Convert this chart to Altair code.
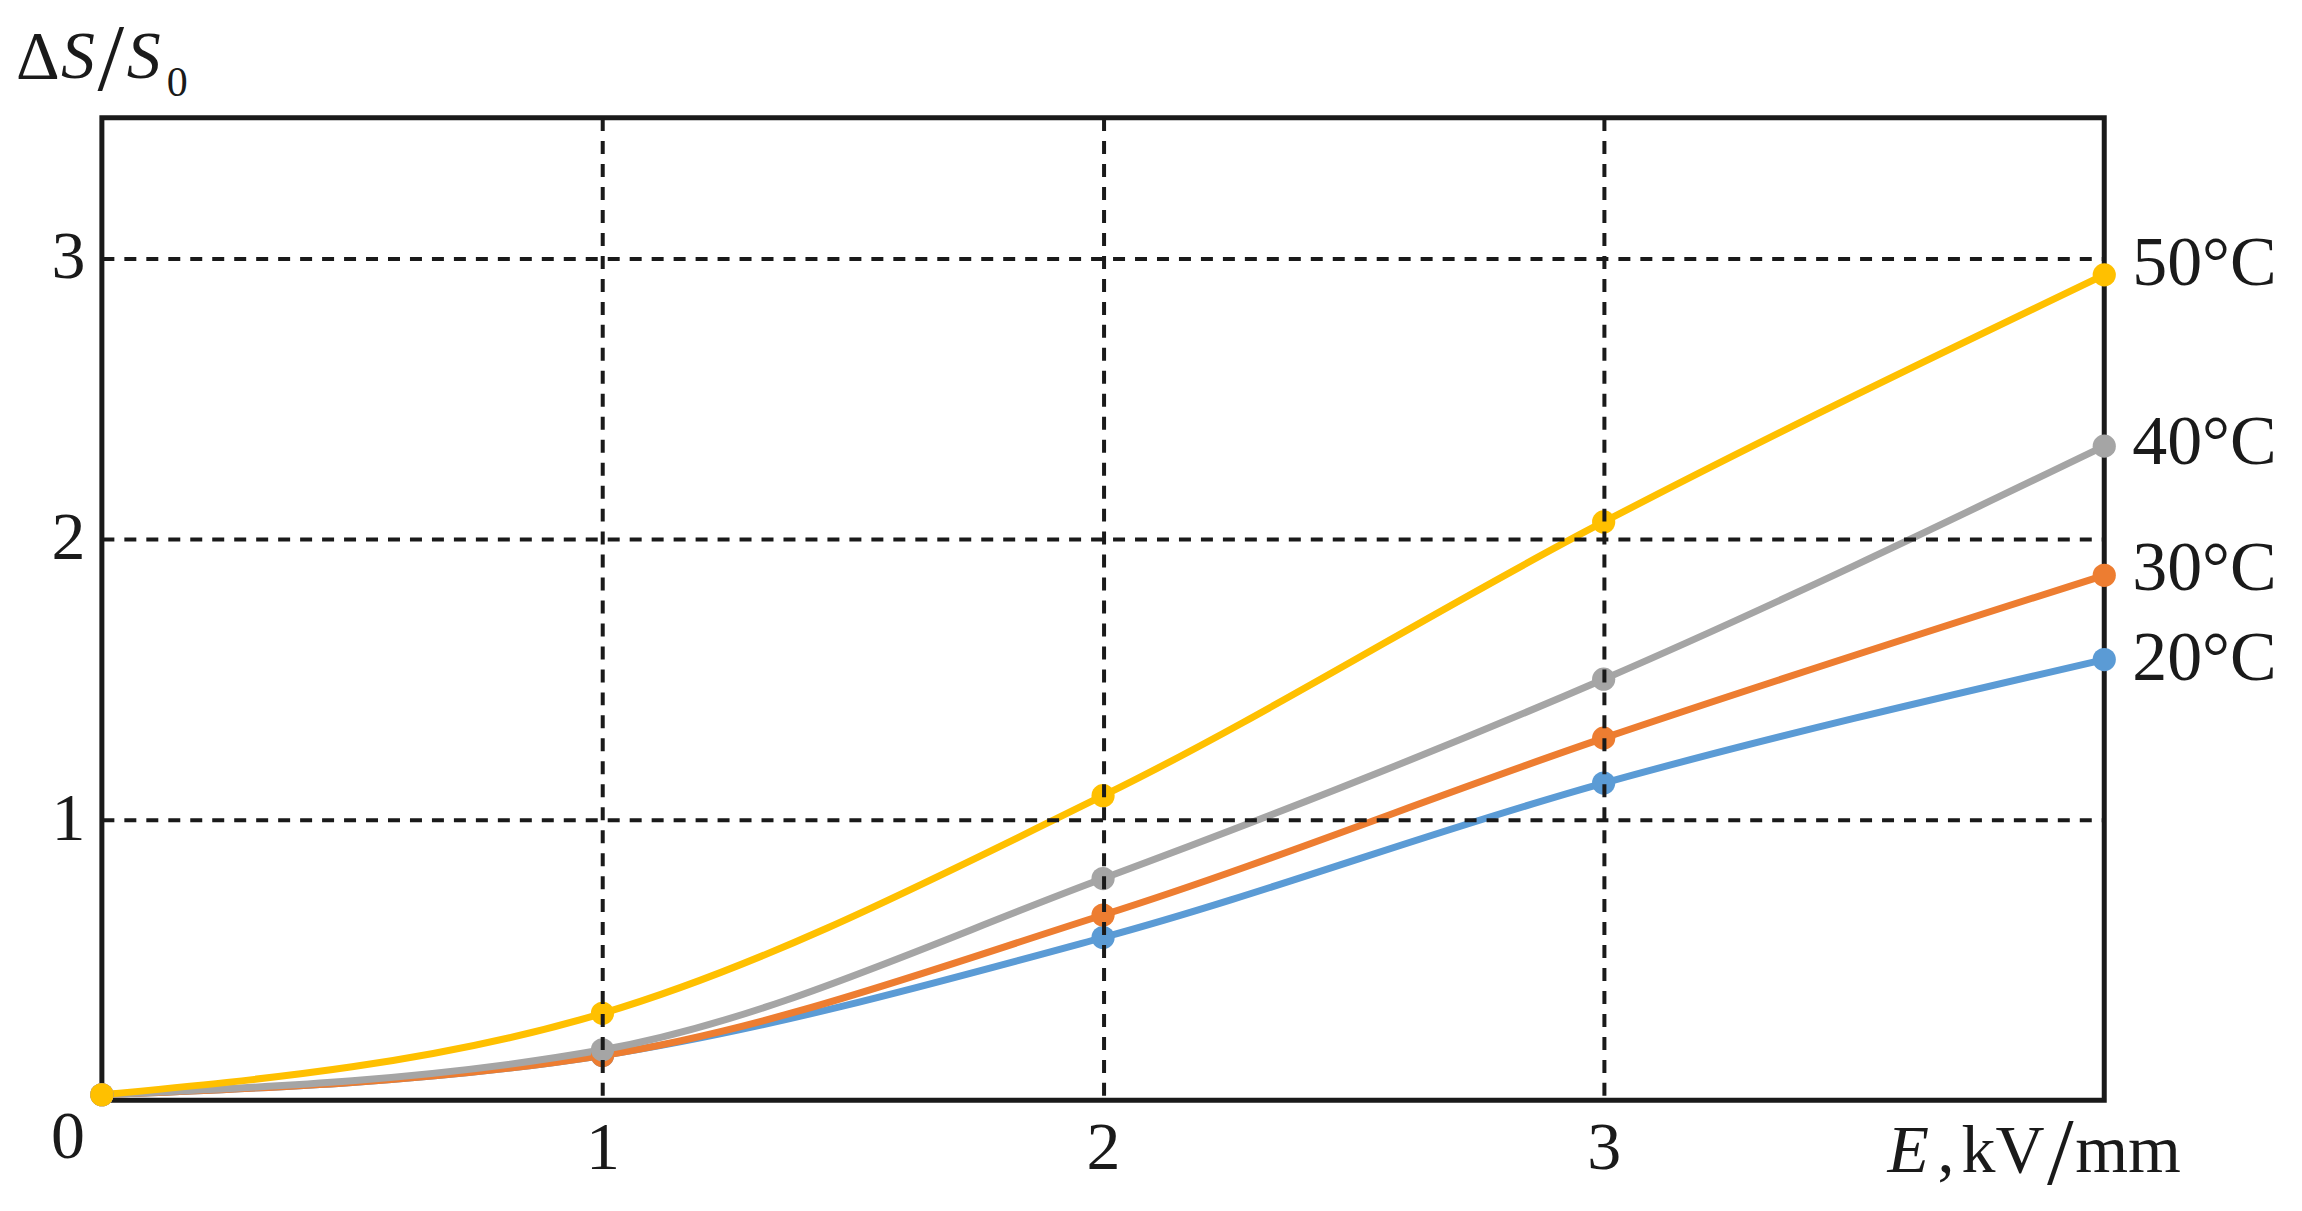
import altair as alt
import pandas as pd

# ---- data ----
E = [0, 1, 2, 3, 4]
series = ["20°C", "30°C", "40°C", "50°C"]
s20 = [0.02, 0.16, 0.58, 1.13, 1.57]
s30 = [0.02, 0.16, 0.66, 1.29, 1.87]
s40 = [0.02, 0.18, 0.79, 1.50, 2.33]
s50 = [0.02, 0.31, 1.085, 2.06, 2.94]
colors = ["#5B9BD5", "#ED7D31", "#A5A5A5", "#FFC000"]
grid_values = [1, 2, 3]

FONT = "Liberation Serif, Times New Roman, serif"
INK = "#1a1a1a"

rows = []
for name, vals in zip(series, [s20, s30, s40, s50]):
    for e, v in zip(E, vals):
        rows.append({"E": e, "v": v, "s": name})
df = pd.DataFrame(rows)

xs = alt.Scale(domain=[0, 4], nice=False, zero=False)
ys = alt.Scale(domain=[0, 3.5], nice=False)
cs = alt.Scale(domain=series, range=colors)

x_axis = alt.Axis(values=grid_values, format="d", grid=True, gridDash=[13, 10],
                  gridColor=INK, gridWidth=4, domain=False, ticks=False,
                  labelFont=FONT, labelFontSize=68, labelColor=INK, labelPadding=14,
                  title=None, zindex=1)
y_axis = alt.Axis(values=grid_values, format="d", grid=True, gridDash=[12, 10],
                  gridColor=INK, gridWidth=4, domain=False, ticks=False,
                  labelFont=FONT, labelFontSize=68, labelColor=INK, labelPadding=17,
                  title=None, zindex=1)

base = alt.Chart(df)
lines = base.mark_line(interpolate="monotone", strokeWidth=7).encode(
    x=alt.X("E:Q", scale=xs, axis=x_axis),
    y=alt.Y("v:Q", scale=ys, axis=y_axis),
    color=alt.Color("s:N", scale=cs, legend=None),
)
points = base.mark_circle(size=540, opacity=1).encode(
    x=alt.X("E:Q", scale=xs),
    y=alt.Y("v:Q", scale=ys),
    color=alt.Color("s:N", scale=cs, legend=None),
)

label_dy = {"50°C": -11, "40°C": -3, "30°C": -6, "20°C": -1}
labels = []
for name in series:
    labels.append(
        base.transform_filter(
            (alt.datum.s == name) & (alt.datum.E == 4)
        ).mark_text(align="left", baseline="middle", dx=28, dy=label_dy[name],
                    font=FONT, fontSize=70, color=INK).encode(
            x=alt.X("E:Q", scale=xs),
            y=alt.Y("v:Q", scale=ys),
            text="s:N",
        )
    )

one = alt.Chart(pd.DataFrame({"a": [0]}))


def txt(t, x, y, size=68, style="normal", align="left", baseline="alphabetic"):
    return one.mark_text(text=t, font=FONT, fontSize=size, fontStyle=style,
                         align=align, baseline=baseline, color=INK).encode(
        x=alt.value(x), y=alt.value(y))


annotations = [
    # origin label
    txt("0", -34, 1022, align="center", baseline="middle"),
    # y-axis title  ΔS/S0
    txt("Δ", -86, -40),
    txt("S", -41, -40, style="italic"),
    txt("/", 9, -57, size=96, align="center", baseline="middle"),
    txt("S", 25, -40, style="italic"),
    txt("0", 65, -22, size=42),
    # x-axis title  E, kV/mm
    txt("E", 1788, 1056, style="italic"),
    txt(",", 1838, 1056),
    txt("kV", 1862, 1056),
    txt("/", 1961, 1039, size=96, align="center", baseline="middle"),
    txt("mm", 1976, 1056),
]

chart = alt.layer(lines, points, *labels, *annotations).properties(
    width=2005,
    height=984,
    padding={"left": 94, "top": 109, "right": 190, "bottom": 100},
    autosize="none",
    background="white",
).configure_view(stroke=INK, strokeWidth=5)

chart.save("out.html", embed_options={"renderer": "svg", "actions": False})
